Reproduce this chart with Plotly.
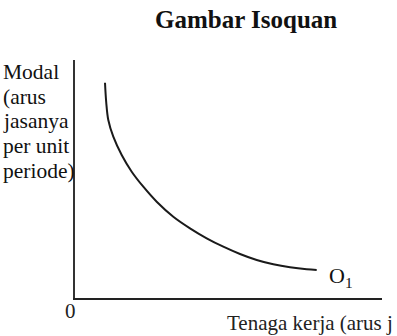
import plotly.graph_objects as go

# Isoquant Q1: labour (x) vs capital (y), arbitrary units
labour = [30, 31.2, 33.3, 38.3, 46.7, 56.7, 68.3, 81.7, 98.3, 115, 131.7, 148.3, 165, 181.7, 198.3, 215, 231.7, 241.7]
capital = [215.3, 196, 178, 161.3, 143, 126.3, 111.3, 96.3, 81.3, 69.7, 59.7, 51.3, 44, 38, 33.7, 30.7, 28.7, 28]

title_text = "Gambar Isoquan"
y_label_lines = ["Modal", "(arus", "jasanya", "per unit", "periode)"]
x_label = "Tenaga kerja (arus j"
curve_label = "O<sub>1</sub>"
origin_label = "0"

W, H = 397, 336
L, R, T, B = 75, 15, 60, 38
XMAX = W - L - R
YMAX = H - T - B

FONT = "Liberation Serif, Times New Roman, serif"
INK = "#1a1a1a"

fig = go.Figure()
fig.add_trace(go.Scatter(
    x=labour, y=capital, mode="lines",
    line=dict(color=INK, width=2, shape="spline", smoothing=1.0),
    hoverinfo="skip", showlegend=False,
))

def px_to_x(px):
    return (px - L) / XMAX

def py_to_y(py):
    return ((H - B) - py) / YMAX

ann = []
ann.append(dict(x=px_to_x(246), y=py_to_y(20), text="<b>" + title_text + "</b>",
                font=dict(family=FONT, size=25, color="#111"),
                xanchor="center", yanchor="middle"))
centers = [72, 96.5, 121, 146, 171]
for t, cy in zip(y_label_lines, centers):
    ann.append(dict(x=px_to_x(1), y=py_to_y(cy), text=t,
                    font=dict(family=FONT, size=21.5, color="#111"),
                    xanchor="left", yanchor="middle"))
ann.append(dict(x=px_to_x(225), y=py_to_y(323), text=x_label,
                font=dict(family=FONT, size=21, color="#222"),
                xanchor="left", yanchor="middle"))
ann.append(dict(x=px_to_x(70.5), y=py_to_y(311), text=origin_label,
                font=dict(family=FONT, size=21, color="#222"),
                xanchor="center", yanchor="middle"))
ann.append(dict(x=px_to_x(327), y=py_to_y(277), text=curve_label,
                font=dict(family=FONT, size=22, color="#111"),
                xanchor="left", yanchor="middle"))
for a in ann:
    a.update(xref="paper", yref="paper", showarrow=False)

fig.update_layout(
    width=W, height=H,
    margin=dict(l=L, r=R, t=T, b=B, pad=0),
    paper_bgcolor="white", plot_bgcolor="white",
    annotations=ann,
    xaxis=dict(range=[0, XMAX], showgrid=False, zeroline=False, showticklabels=False,
               ticks="", showline=True, linecolor="#222", linewidth=1.5, fixedrange=True),
    yaxis=dict(range=[0, YMAX], showgrid=False, zeroline=False, showticklabels=False,
               ticks="", showline=True, linecolor="#333", linewidth=2, fixedrange=True),
)

fig.write_html("out.html", config=dict(displayModeBar=False))
